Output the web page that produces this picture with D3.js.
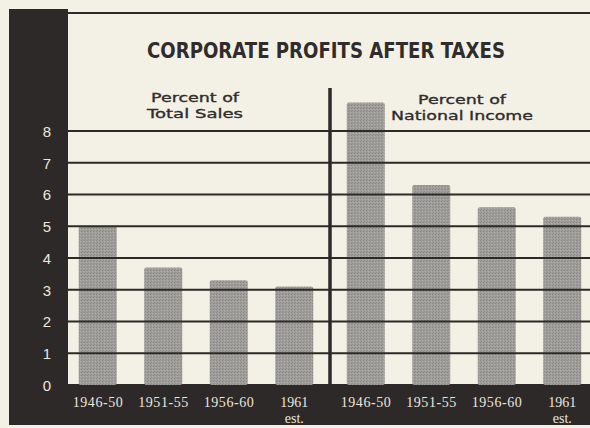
<!DOCTYPE html>
<html>
<head>
<meta charset="utf-8">
<script src="https://cdn.jsdelivr.net/npm/d3@7"></script>
<style>
  html, body { margin: 0; padding: 0; background: #f3f0e5; }
  svg { display: block; }
</style>
</head>
<body>
<svg id="chart" width="590" height="428"></svg>
<script>
// Corporate profits after taxes, two panels sharing one percentage scale
const chartTitle = "CORPORATE PROFITS AFTER TAXES";
const leftHeading = ["Percent of", "Total Sales"];
const rightHeading = ["Percent of", "National Income"];
const categories = ["1946-50", "1951-55", "1956-60", "1961 est."];
const salesPct = [5.0, 3.7, 3.3, 3.1];
const incomePct = [8.9, 6.3, 5.6, 5.3];
const yTicks = [0, 1, 2, 3, 4, 5, 6, 7, 8];

const W = 590, H = 428;
const ink = "#2d2929";
const paper = "#f3f0e5";
const light = "#ebe7dd";

const svg = d3.select("#chart");

// stippled grey for the bars
const defs = svg.append("defs");
const pat = defs.append("pattern")
  .attr("id", "stipple").attr("patternUnits", "userSpaceOnUse")
  .attr("width", 3).attr("height", 3);
pat.append("rect").attr("width", 3).attr("height", 3).attr("fill", "#a09e9a");
pat.append("rect").attr("x", 0).attr("y", 0).attr("width", 1).attr("height", 1).attr("fill", "#878581");
pat.append("rect").attr("x", 2).attr("y", 1).attr("width", 1).attr("height", 1).attr("fill", "#b0aeaa");
pat.append("rect").attr("x", 1).attr("y", 2).attr("width", 1).attr("height", 1).attr("fill", "#8f8d89");

svg.append("rect").attr("width", W).attr("height", H).attr("fill", paper);

const plotLeft = 68, plotRight = W, baseY = 385, topY = 131;
const y = d3.scaleLinear().domain([0, 8]).range([baseY, topY]);

const xLeft = d3.scaleBand().domain(categories).range([65, 327])
  .paddingInner(0.42).paddingOuter(0.21);
const xRight = d3.scaleBand().domain(categories).range([333, 595])
  .paddingInner(0.42).paddingOuter(0.21);

// dark frame: left column and bottom band
svg.append("rect").attr("x", 9).attr("y", 9).attr("width", plotLeft - 9).attr("height", 425 - 9).attr("fill", ink);
svg.append("rect").attr("x", 9).attr("y", baseY - 1).attr("width", W - 9).attr("height", 425 - baseY + 1).attr("fill", ink);

// top rule
svg.append("line").attr("x1", plotLeft).attr("x2", plotRight)
  .attr("y1", 13).attr("y2", 13).attr("stroke", ink).attr("stroke-width", 2.2);

// bars
function drawBars(scale, values) {
  svg.append("g").selectAll("rect").data(categories).join("rect")
    .attr("x", d => scale(d))
    .attr("width", scale.bandwidth())
    .attr("y", (d, i) => y(values[i]))
    .attr("height", (d, i) => baseY - y(values[i]))
    .attr("rx", 2)
    .attr("fill", "url(#stipple)");
}
drawBars(xLeft, salesPct);
drawBars(xRight, incomePct);

// horizontal rules drawn over the bars
svg.append("g").selectAll("line").data(yTicks.filter(t => t > 0)).join("line")
  .attr("x1", plotLeft).attr("x2", plotRight)
  .attr("y1", d => y(d)).attr("y2", d => y(d))
  .attr("stroke", ink).attr("stroke-width", 2);

// divider between the two panels
svg.append("line").attr("x1", 330).attr("x2", 330)
  .attr("y1", 88).attr("y2", baseY)
  .attr("stroke", ink).attr("stroke-width", 3.5);

// y tick labels in the dark column
const yAxis = svg.append("g").attr("transform", "translate(47,0)")
  .call(d3.axisLeft(y).tickValues(yTicks).tickSize(0).tickFormat(d3.format("d")));
yAxis.select(".domain").remove();
yAxis.selectAll("text")
  .attr("x", 0).attr("dy", "0.36em")
  .attr("text-anchor", "middle")
  .attr("fill", light)
  .style("font-family", "'Liberation Sans', Arial, sans-serif")
  .style("font-size", "15px");

// category labels in the bottom band
function drawCats(scale) {
  const g = svg.append("g").attr("transform", `translate(0,${baseY})`)
    .call(d3.axisBottom(scale).tickSize(0));
  g.select(".domain").remove();
  g.selectAll("text").each(function(d) {
    const t = d3.select(this);
    const parts = d.split(" ");
    t.text(null).attr("y", 0).attr("dy", null)
      .attr("fill", light)
      .style("font-family", "'Liberation Serif', 'Times New Roman', serif")
      .style("font-size", "14px");
    parts.forEach((p, i) => {
      t.append("tspan").attr("x", 0).attr("y", 22 + i * 16)
        .attr("textLength", p.length > 4 ? 50 : null)
        .text(p);
    });
  });
}
drawCats(xLeft);
drawCats(xRight);

// title
svg.append("text").attr("x", 326).attr("y", 58)
  .attr("text-anchor", "middle")
  .attr("fill", "#302c2c")
  .attr("textLength", 358).attr("lengthAdjust", "spacingAndGlyphs")
  .style("font-family", "'Liberation Sans Narrow', 'DejaVu Sans Condensed', sans-serif")
  .style("font-weight", "bold")
  .style("font-size", "21px")
  .text(chartTitle);

// panel headings
function heading(lines, cx, y0, widths) {
  lines.forEach((s, i) => {
    svg.append("text").attr("x", cx).attr("y", y0 + i * 15.5)
      .attr("text-anchor", "middle")
      .attr("fill", "#302c2c")
      .attr("stroke", "#302c2c").attr("stroke-width", 0.35)
      .attr("textLength", widths[i]).attr("lengthAdjust", "spacingAndGlyphs")
      .style("font-family", "'DejaVu Sans', sans-serif")
      .style("font-size", "13px")
      .text(s);
  });
}
heading(leftHeading, 195, 102, [88, 96]);
heading(rightHeading, 462, 104, [88, 142]);
</script>
</body>
</html>
